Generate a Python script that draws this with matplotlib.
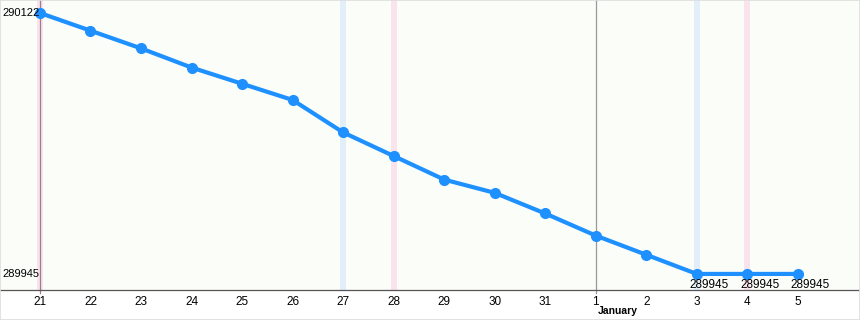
import matplotlib.pyplot as plt

# ---------------------------------------------
# Data
# ---------------------------------------------
day_labels = ["21", "22", "23", "24", "25", "26", "27", "28",
              "29", "30", "31", "1", "2", "3", "4", "5"]
values = [290122, 290110, 290098, 290085, 290074, 290063, 290041, 290025,
          290009, 290000, 289986, 289971, 289958, 289945, 289945, 289945]
saturdays = ["27", "3"]
sundays = ["21", "28", "4"]
labelled_points = ["3", "4", "5"]
month_start = "1"
month_name = "January"
y_ticks = [289945, 290122]

x = list(range(len(day_labels)))

plt.rcParams['font.family'] = ['Liberation Sans', 'DejaVu Sans']

fig = plt.figure(figsize=(8.6, 3.2), dpi=100)
fig.patch.set_facecolor('white')
ax = fig.add_axes([0.0, 30 / 320, 1.0, 290 / 320])
ax.set_facecolor('#fbfdf9')

# weekend bands
for d in saturdays:
    ax.axvspan(day_labels.index(d) - 0.06, day_labels.index(d) + 0.06,
               color='#e2eff9', lw=0, zorder=0)
for d in sundays:
    ax.axvspan(day_labels.index(d) - 0.06, day_labels.index(d) + 0.06,
               color='#fbe3ee', lw=0, zorder=0)

# month separator and left axis (poke slightly below the baseline)
ax.axvline(day_labels.index(month_start), ymin=-0.012, ymax=1, clip_on=False,
           color='#999999', lw=0.9, zorder=1)
ax.axvline(0, ymin=-0.012, ymax=1, clip_on=False, color='#9a7f86', lw=0.9, zorder=1)

ax.plot(x, values, color='#1e90ff', lw=3, marker='o', ms=7, zorder=3)

for d in labelled_points:
    i = day_labels.index(d)
    ax.annotate(str(values[i]), (i, values[i]), xytext=(-5, -4),
                textcoords='offset points', ha='left', va='top',
                fontsize=8.5, color='black')

for v in y_ticks:
    ax.text(-0.005, v, str(v), ha='right', va='center', fontsize=8,
            color='black', zorder=4)

ax.set_xlim(-0.79, 16.23)
ax.set_ylim(289934.1, 290130.8)

ax.set_xticks(x)
ax.set_xticklabels(day_labels, fontsize=8.5)
ax.tick_params(axis='x', length=0, pad=4)
ax.set_yticks([])
for s in ['top', 'right', 'left']:
    ax.spines[s].set_visible(False)
ax.spines['bottom'].set_color('#555555')
ax.spines['bottom'].set_linewidth(0.9)

fig.text(598 / 860, 1 - 311 / 320, month_name, ha='left', va='center',
         fontsize=7.5, fontweight='bold')

# light outer border
fig.add_artist(plt.Rectangle((0.0005, 0.001), 0.999, 0.998, transform=fig.transFigure,
                             fill=False, ec='#dddddd', lw=1.2))

fig.savefig("out.png", dpi=100)
